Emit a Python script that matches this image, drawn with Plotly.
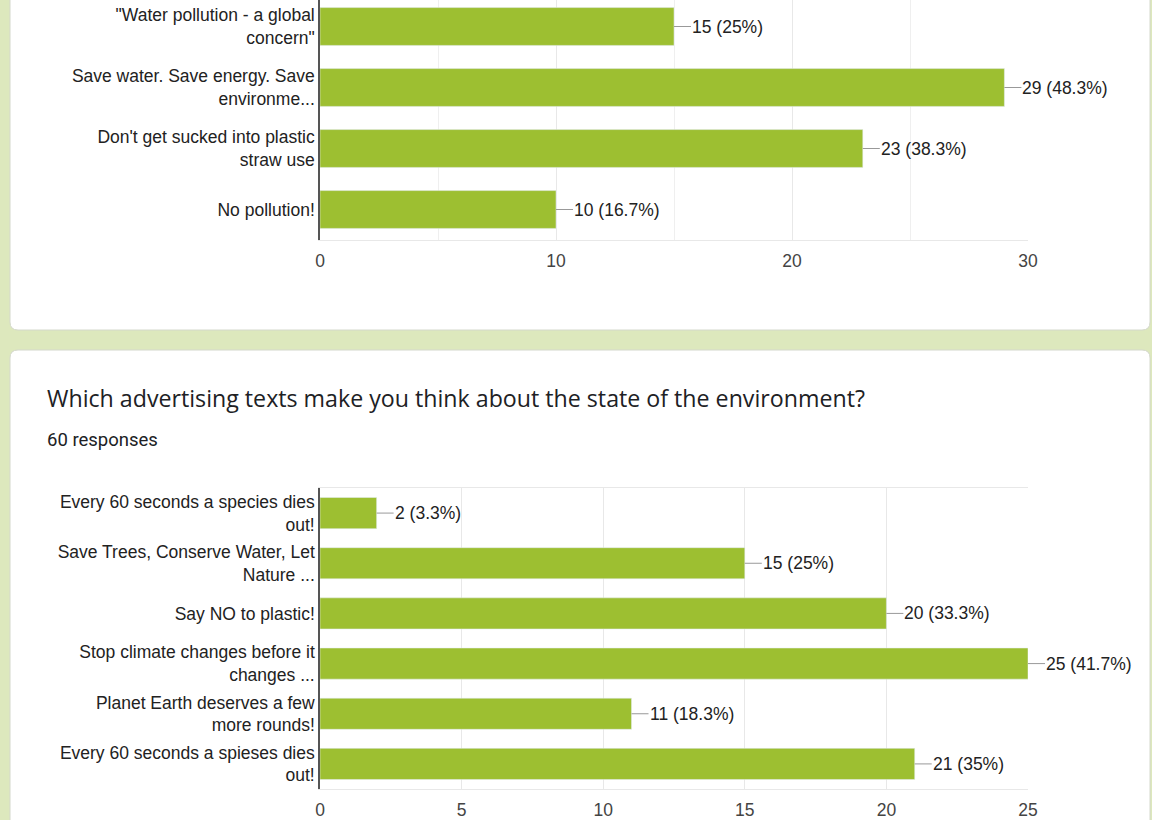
import plotly.graph_objects as go

# ---- data ----
cats1 = ["\"Water pollution - a global\nconcern\"",
         "Save water. Save energy. Save\nenvironme...",
         "Don't get sucked into plastic\nstraw use",
         "No pollution!"]
vals1 = [15, 29, 23, 10]
pcts1 = ["25%", "48.3%", "38.3%", "16.7%"]

cats2 = ["Every 60 seconds a species dies\nout!",
         "Save Trees, Conserve Water, Let\nNature ...",
         "Say NO to plastic!",
         "Stop climate changes before it\nchanges ...",
         "Planet Earth deserves a few\nmore rounds!",
         "Every 60 seconds a spieses dies\nout!"]
vals2 = [2, 15, 20, 25, 11, 21]
pcts2 = ["3.3%", "25%", "33.3%", "41.7%", "18.3%", "35%"]

title2 = "Which advertising texts make you think about the state of the environment?"
responses2 = "60 responses"
ticks1 = [0, 10, 20, 30]
ticks2 = [0, 5, 10, 15, 20, 25]

# ---- layout helpers ----
W, H = 1152, 820
def px(x):
    return x / W
def py(y):
    return 1 - y / H

BAR = "#9dbf31"
GREEN_BG = "#dde8bd"
LABEL_FONT = dict(family="Liberation Sans, Arial", size=17.5, color="#222222")
TICK_FONT = dict(family="Liberation Sans, Arial", size=17.5, color="#444444")

labels1 = [c.replace("\n", "<br>") for c in cats1]
labels2 = [c.replace("\n", "<br>") for c in cats2]

fig = go.Figure()
fig.add_trace(go.Bar(x=vals1, y=labels1, orientation="h", marker_color=BAR,
                     xaxis="x", yaxis="y", hoverinfo="skip"))
fig.add_trace(go.Bar(x=vals2, y=labels2, orientation="h", marker_color=BAR,
                     xaxis="x2", yaxis="y2", hoverinfo="skip"))

def card_path(x0, y0, x1, y1, r=8):
    rx, ry = r / W, r / H
    X0, X1 = px(x0), px(x1)
    Yt, Yb = py(y0), py(y1)
    return (f"M {X0+rx} {Yt} L {X1-rx} {Yt} Q {X1} {Yt} {X1} {Yt-ry} "
            f"L {X1} {Yb+ry} Q {X1} {Yb} {X1-rx} {Yb} L {X0+rx} {Yb} "
            f"Q {X0} {Yb} {X0} {Yb+ry} L {X0} {Yt-ry} Q {X0} {Yt} {X0+rx} {Yt} Z")

shapes = [
    dict(type="path", xref="paper", yref="paper", path=card_path(10, -30, 1150, 330),
         fillcolor="white", line=dict(color="#d4d8cc", width=1), layer="below"),
    dict(type="path", xref="paper", yref="paper", path=card_path(10, 350, 1150, 860),
         fillcolor="white", line=dict(color="#d4d8cc", width=1), layer="below"),
]

annotations = []
for v, c, p in zip(vals1, labels1, pcts1):
    annotations.append(dict(x=v, y=c, xref="x", yref="y", text=f"{v} ({p})",
                            showarrow=True, arrowhead=0, arrowwidth=1, arrowcolor="#999999",
                            ax=17, ay=0, xanchor="left", standoff=0, startstandoff=0,
                            font=LABEL_FONT, borderpad=0))
for v, c, p in zip(vals2, labels2, pcts2):
    annotations.append(dict(x=v, y=c, xref="x2", yref="y2", text=f"{v} ({p})",
                            showarrow=True, arrowhead=0, arrowwidth=1, arrowcolor="#999999",
                            ax=17, ay=0, xanchor="left", standoff=0, startstandoff=0,
                            font=LABEL_FONT, borderpad=0))

annotations.append(dict(x=px(45), y=py(398), xref="paper", yref="paper", text=title2,
                        showarrow=False, xanchor="left", yanchor="middle",
                        font=dict(family="Open Sans, Roboto", size=23.2, color="#202124")))
annotations.append(dict(x=px(45), y=py(440), xref="paper", yref="paper", text=responses2,
                        showarrow=False, xanchor="left", yanchor="middle",
                        font=dict(family="Roboto, Open Sans", size=18.5, color="#202124")))

xcommon = dict(showgrid=True, gridcolor="#e8e8e8", gridwidth=1,
               minor=dict(dtick=5, showgrid=True, gridcolor="#efefef", gridwidth=1),
               showline=True, mirror=True, linecolor="#e8e8e8", linewidth=1,
               zeroline=False, tickfont=TICK_FONT, ticks="outside", ticklen=5,
               tickcolor="rgba(0,0,0,0)", fixedrange=True, automargin=False)
ycommon = dict(type="category", showgrid=False, showline=True, linecolor="#555555",
               linewidth=1.5, tickfont=LABEL_FONT, ticks="",
               zeroline=False, fixedrange=True, automargin=False)

fig.update_layout(
    width=W, height=H, margin=dict(l=0, r=0, t=0, b=0, autoexpand=False),
    paper_bgcolor=GREEN_BG, plot_bgcolor="white",
    showlegend=False, bargap=0.38,
    xaxis=dict(domain=[px(320), px(1028)], range=[0, 30], tickvals=ticks1, anchor="y", **xcommon),
    yaxis=dict(domain=[py(240), py(0)], range=[3.5, 3.5 - 240 / 61], anchor="x",
               categoryorder="array", categoryarray=labels1, **ycommon),
    xaxis2=dict(domain=[px(320), px(1028)], range=[0, 25], tickvals=ticks2, anchor="y2", **xcommon),
    yaxis2=dict(domain=[py(789), py(488)], range=[5.5, -0.5], anchor="x2",
                categoryorder="array", categoryarray=labels2, **ycommon),
    shapes=shapes, annotations=annotations,
)

fig.write_html("out.html")
